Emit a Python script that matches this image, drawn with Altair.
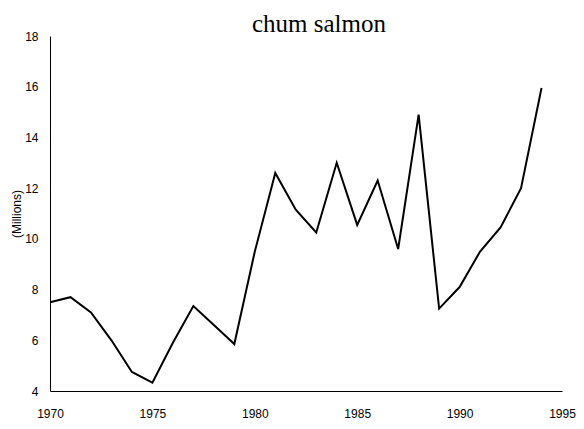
import altair as alt
import pandas as pd

years = list(range(1970, 1995))
catch_millions = [7.5, 7.7, 7.1, 6.0, 4.75, 4.33, 5.9, 7.35, 6.6, 5.85,
                  9.5, 12.6, 11.15, 10.25, 13.0, 10.55, 12.3, 9.6, 14.9, 7.25,
                  8.1, 9.5, 10.45, 12.0, 15.95]

df = pd.DataFrame({"year": years, "value": catch_millions})

chart = alt.Chart(df).mark_line(color="black", strokeWidth=2).encode(
    x=alt.X("year:Q",
            scale=alt.Scale(domain=[1970, 1995], nice=False, zero=False),
            axis=alt.Axis(values=[1970, 1975, 1980, 1985, 1990, 1995], format="d",
                          title=None, grid=False, ticks=False, tickSize=0,
                          labelPadding=17, labelFontSize=12,
                          labelFont="Liberation Sans", labelColor="black",
                          domainColor="black", labelFlush=False)),
    y=alt.Y("value:Q",
            scale=alt.Scale(domain=[4, 18], nice=False, zero=False),
            axis=alt.Axis(values=[4, 6, 8, 10, 12, 14, 16, 18],
                          title="(Millions)", titleFont="Liberation Sans",
                          titleFontSize=12, titleFontWeight="normal",
                          titleColor="black", titlePadding=1,
                          grid=False, ticks=False, tickSize=0,
                          labelPadding=12, labelFontSize=12,
                          labelFont="Liberation Sans", labelColor="black",
                          domainColor="black")),
).properties(
    width=512,
    height=355,
    title=alt.TitleParams("chum salmon", font="Liberation Serif", fontSize=25,
                          fontWeight="normal", color="black", anchor="middle",
                          dx=13, dy=11, offset=4),
    autosize=alt.AutoSizeParams(type="none"),
    padding={"left": 42, "top": 28, "right": 14, "bottom": 30},
).configure_view(stroke=None)

chart.save("out.html", embed_options={"renderer": "svg", "actions": False})
